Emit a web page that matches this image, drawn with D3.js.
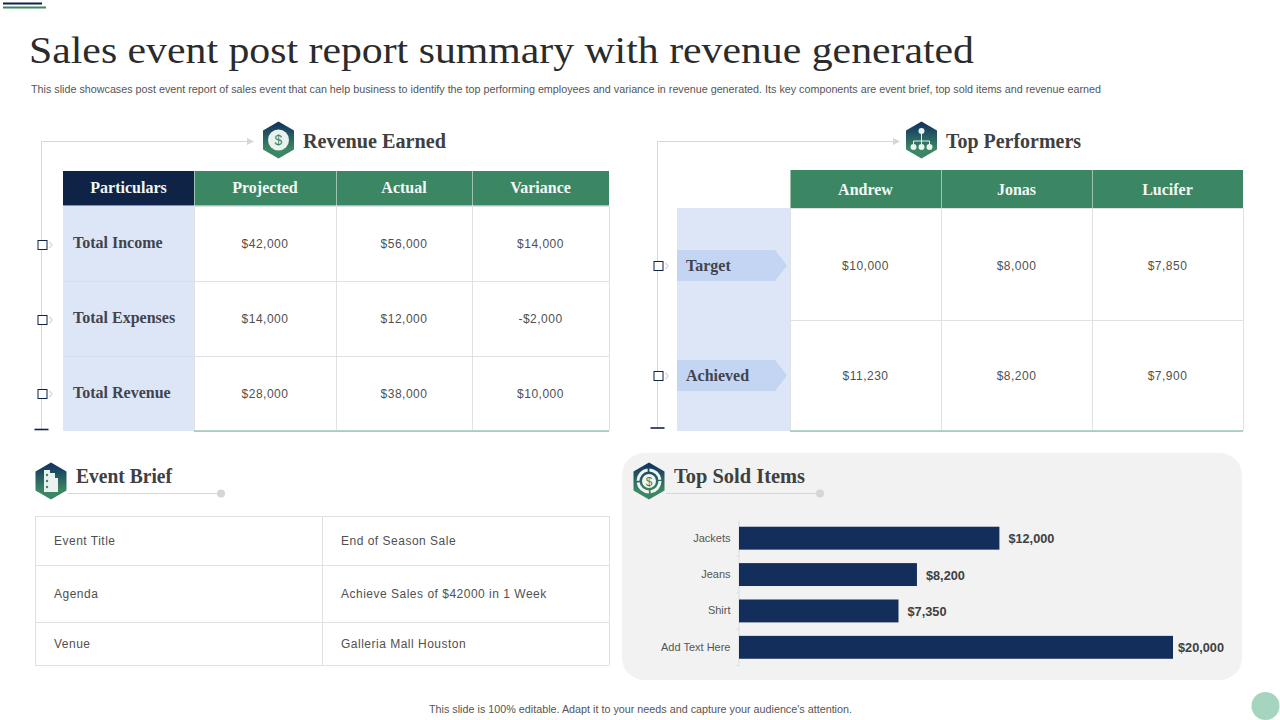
<!DOCTYPE html>
<html>
<head>
<meta charset="utf-8">
<title>Sales event post report summary</title>
<script src="https://cdn.jsdelivr.net/npm/d3@7/dist/d3.min.js"></script>
<style>
html, body { margin: 0; padding: 0; background: #fff; overflow: hidden; }
svg { display: block; }
.serif { font-family: "Liberation Serif", serif; }
.sans { font-family: "Liberation Sans", Arial, sans-serif; }
.spaced { letter-spacing: 0.5px; }
</style>
</head>
<body>
<svg id="slide" width="1280" height="720"></svg>
<script>
"use strict";

var navy = "#142e5c",
	dark_navy = "#0f2347",
	green = "#3c8763",
	pale_blue = "#dde6f7",
	mid_blue = "#c3d5f3",
	grid = "#dfe2e5",
	bracket = "#d4d6d8",
	text_dark = "#41444f",
	text_cell = "#505050";

var revenue = {
	header: ["Particulars", "Projected", "Actual", "Variance"],
	rows: [
		["Total Income", "$42,000", "$56,000", "$14,000"],
		["Total Expenses", "$14,000", "$12,000", "-$2,000"],
		["Total Revenue", "$28,000", "$38,000", "$10,000"]
	]
};

var performers = {
	header: ["Andrew", "Jonas", "Lucifer"],
	rows: [
		["Target", "$10,000", "$8,000", "$7,850"],
		["Achieved", "$11,230", "$8,200", "$7,900"]
	]
};

var brief = [
	["Event Title", "End of Season Sale"],
	["Agenda", "Achieve Sales of $42000 in 1 Week"],
	["Venue", "Galleria Mall Houston"]
];

//dx is how far the value label sits past the bar end
var sold = [
	{ item: "Jackets", value: 12000, dx: 9 },
	{ item: "Jeans", value: 8200, dx: 9 },
	{ item: "Shirt", value: 7350, dx: 9 },
	{ item: "Add Text Here", value: 20000, dx: 5 }
];

var svg = d3.select("#slide");

var defs = svg.append("defs");
var grad = defs.append("linearGradient")
	.attr("id", "hex_grad")
	.attr("x1", 0).attr("y1", 0).attr("x2", 0).attr("y2", 1);
grad.append("stop").attr("offset", "8%").attr("stop-color", "#14375f");
grad.append("stop").attr("offset", "75%").attr("stop-color", "#3c8763");

function label(g, x, y, str, cls, size, fill, weight, anchor, len) {
	var t = g.append("text")
		.attr("class", cls)
		.attr("x", x)
		.attr("y", y)
		.attr("font-size", size)
		.attr("fill", fill)
		.attr("font-weight", weight || "normal")
		.attr("text-anchor", anchor || "start")
		.text(str);
	if(len) {
		t.attr("textLength", len).attr("lengthAdjust", "spacingAndGlyphs");
	}
	return t;
}

function hexagon(cx, cy, kind) {
	var g = svg.append("g").attr("transform", "translate(" + cx + "," + cy + ")");
	g.append("path")
		.attr("d", "M0,-18.5 L15.5,-9.5 L15.5,9.5 L0,18.5 L-15.5,9.5 L-15.5,-9.5 Z")
		.attr("fill", "url(#hex_grad)");

	if(kind == "dollar") {
		g.append("circle").attr("r", 10.5).attr("fill", "#e9f2ee");
		label(g, 0, 5, "$", "sans", 14, green, "normal", "middle");
	}
	else if(kind == "ring") {
		g.append("circle").attr("r", 11).attr("fill", "none").attr("stroke", "#f0f6f3").attr("stroke-width", 3).attr("stroke-dasharray", "15.5 1.8");
		g.append("circle").attr("r", 7).attr("fill", "#f0f6f3");
		label(g, 0, 4.5, "$", "sans", 12, green, "normal", "middle");
	}
	else if(kind == "org") {
		g.append("path")
			.attr("d", "M0,-8 V5 M-8,1 H8 M-8,1 V5 M8,1 V5")
			.attr("stroke", "#e9f2ee")
			.attr("fill", "none");
		g.selectAll("circle.node")
			.data([[0, -9], [-8, 7], [0, 7], [8, 7]])
			.enter().append("circle")
				.attr("class", "node")
				.attr("cx", function(d) { return d[0]; })
				.attr("cy", function(d) { return d[1]; })
				.attr("r", 3)
				.attr("fill", "#e9f2ee");
	}
	else if(kind == "clipboard") {
		g.append("path")
			.attr("d", "M-7,-11 H-1 V-8 H4 V-3 H7 V11 H-7 Z")
			.attr("fill", "#e9f2ee");
		g.selectAll("circle.dot")
			.data([-6, 0, 6])
			.enter().append("circle")
				.attr("class", "dot")
				.attr("cx", -4)
				.attr("cy", function(d) { return d; })
				.attr("r", 1.2)
				.attr("fill", green);
	}
}

function section_title(x, y, str, len) {
	label(svg, x, y, str, "serif", 20.5, "#404040", "bold", "start", len);
}

//bracket on the left of the two top tables: line, arrow, row markers, end dash
function draw_bracket(x, top, bottom, arrow_x, marks) {
	svg.append("path")
		.attr("d", "M" + x + "," + bottom + " V" + top + " H" + arrow_x)
		.attr("fill", "none")
		.attr("stroke", bracket);
	svg.append("path")
		.attr("d", "M" + arrow_x + "," + (top - 3.5) + " l7,3.5 l-7,3.5 Z")
		.attr("fill", bracket);
	svg.append("line")
		.attr("x1", x - 7).attr("x2", x + 7)
		.attr("y1", bottom).attr("y2", bottom)
		.attr("stroke", dark_navy)
		.attr("stroke-width", 1.6);
	marks.forEach(function(y) {
		svg.append("rect")
			.attr("x", x - 3.5).attr("y", y - 4.5)
			.attr("width", 9).attr("height", 9)
			.attr("fill", "#fff")
			.attr("stroke", dark_navy);
		svg.append("path")
			.attr("d", "M" + (x + 8) + "," + (y - 3) + " l2.5,3 l-2.5,3")
			.attr("fill", "none")
			.attr("stroke", "#dcdcdc")
			.attr("stroke-width", 1.5);
	});
}

function draw_grid(x_edges, y_edges) {
	x_edges.forEach(function(x) {
		svg.append("line")
			.attr("x1", x + 0.5).attr("x2", x + 0.5)
			.attr("y1", y_edges[0]).attr("y2", y_edges[y_edges.length - 1])
			.attr("stroke", grid);
	});
	y_edges.forEach(function(y) {
		svg.append("line")
			.attr("x1", x_edges[0]).attr("x2", x_edges[x_edges.length - 1])
			.attr("y1", y + 0.5).attr("y2", y + 0.5)
			.attr("stroke", grid);
	});
}

//top strip and heading
svg.append("line").attr("x1", 3).attr("x2", 42).attr("y1", 3.5).attr("y2", 3.5).attr("stroke", dark_navy).attr("stroke-width", 2);
svg.append("line").attr("x1", 3).attr("x2", 46).attr("y1", 7.5).attr("y2", 7.5).attr("stroke", green).attr("stroke-width", 2);

label(svg, 29, 63, "Sales event post report summary with revenue generated", "serif", 38.5, "#2b2b2b", "normal", "start", 945);
label(svg, 31, 92.5, "This slide showcases post event report of sales event that can help business to identify the top performing employees and variance in revenue generated. Its key components are event brief, top sold items and revenue earned", "sans", 10.5, "#555", "normal", "start", 1070);

//revenue earned table
var rev_x = [63, 194, 336, 472, 609],
	rev_y = [206, 281, 356, 431];

draw_bracket(41.5, 141.5, 429.5, 247, [245, 320, 394]);
hexagon(278.5, 140, "dollar");
section_title(303, 148, "Revenue Earned", 143);

svg.append("rect").attr("x", rev_x[0]).attr("y", rev_y[0]).attr("width", rev_x[1] - rev_x[0]).attr("height", rev_y[3] - rev_y[0]).attr("fill", pale_blue);
draw_grid(rev_x.slice(1), rev_y);
svg.append("line").attr("x1", rev_x[0]).attr("x2", rev_x[1]).attr("y1", 281.5).attr("y2", 281.5).attr("stroke", "#d5deee");
svg.append("line").attr("x1", rev_x[0]).attr("x2", rev_x[1]).attr("y1", 356.5).attr("y2", 356.5).attr("stroke", "#d5deee");
svg.append("line").attr("x1", rev_x[1]).attr("x2", rev_x[4]).attr("y1", 431).attr("y2", 431).attr("stroke", "#9cc4b3").attr("stroke-width", 1.6);

revenue.header.forEach(function(h, i) {
	svg.append("rect")
		.attr("x", rev_x[i] + (i ? 0.5 : 0)).attr("y", 171)
		.attr("width", rev_x[i + 1] - rev_x[i] - (i ? 0.5 : 0)).attr("height", 34.5)
		.attr("fill", i ? green : dark_navy);
	label(svg, (rev_x[i] + rev_x[i + 1]) / 2, 192.5, h, "serif", 16, "#f3f7f4", "bold", "middle");
});

revenue.rows.forEach(function(row, r) {
	var mid = (rev_y[r] + rev_y[r + 1]) / 2;
	row.forEach(function(cell, c) {
		if(c == 0) {
			label(svg, 73, mid + 4, cell, "serif", 16, text_dark, "bold");
		}
		else {
			label(svg, (rev_x[c] + rev_x[c + 1]) / 2, mid + 4, cell, "sans spaced", 12, text_cell, "normal", "middle");
		}
	});
});

//top performers table
var perf_x = [790, 941, 1092, 1243],
	perf_y = [208, 320, 431],
	perf_arrow = [265.5, 375.5];

draw_bracket(657.5, 141.5, 428, 893, [266, 376]);
hexagon(921.5, 140, "org");
section_title(946, 148, "Top Performers", 135);

svg.append("rect").attr("x", 677).attr("y", perf_y[0]).attr("width", perf_x[0] - 677).attr("height", perf_y[2] - perf_y[0]).attr("fill", pale_blue);
draw_grid(perf_x, perf_y);
svg.append("line").attr("x1", perf_x[0]).attr("x2", perf_x[3]).attr("y1", 431).attr("y2", 431).attr("stroke", "#9cc4b3").attr("stroke-width", 1.6);

performers.header.forEach(function(h, i) {
	svg.append("rect")
		.attr("x", perf_x[i] + 0.5).attr("y", 170)
		.attr("width", perf_x[i + 1] - perf_x[i] - 0.5).attr("height", 38)
		.attr("fill", green);
	label(svg, (perf_x[i] + perf_x[i + 1]) / 2, 194.5, h, "serif", 16, "#f3f7f4", "bold", "middle");
});

performers.rows.forEach(function(row, r) {
	var mid = perf_arrow[r];
	svg.append("path")
		.attr("d", "M677," + (mid - 15.5) + " H775 L787," + mid + " L775," + (mid + 15.5) + " H677 Z")
		.attr("fill", mid_blue);
	row.forEach(function(cell, c) {
		if(c == 0) {
			label(svg, 686, mid + 5, cell, "serif", 16, text_dark, "bold");
		}
		else {
			label(svg, (perf_x[c - 1] + perf_x[c]) / 2, mid + 4, cell, "sans spaced", 12, text_cell, "normal", "middle");
		}
	});
});

//event brief
var brief_x = [35, 322, 609],
	brief_y = [516, 565, 622, 665];

hexagon(51, 481, "clipboard");
section_title(76, 483, "Event Brief", 96);
svg.append("line").attr("x1", 68).attr("x2", 221).attr("y1", 493.5).attr("y2", 493.5).attr("stroke", bracket);
svg.append("circle").attr("cx", 221).attr("cy", 493.5).attr("r", 4).attr("fill", bracket);

draw_grid(brief_x, brief_y);
brief.forEach(function(row, r) {
	var mid = (brief_y[r] + brief_y[r + 1]) / 2;
	label(svg, 54, mid + 4, row[0], "sans spaced", 12, text_cell);
	label(svg, 341, mid + 4, row[1], "sans spaced", 12, text_cell);
});

//top sold items bar chart
svg.append("rect")
	.attr("x", 622).attr("y", 453)
	.attr("width", 620).attr("height", 227)
	.attr("rx", 22)
	.attr("fill", "#f2f2f2");

hexagon(649, 481, "ring");
section_title(674, 483, "Top Sold Items", 131);
svg.append("line").attr("x1", 666).attr("x2", 820).attr("y1", 493.5).attr("y2", 493.5).attr("stroke", bracket);
svg.append("circle").attr("cx", 820).attr("cy", 493.5).attr("r", 4).attr("fill", "#d4d6d8");

var x = d3.scaleLinear()
	.domain([0, 20000])
	.range([739, 1173]);

var y = d3.scaleBand()
	.domain(sold.map(function(d) { return d.item; }))
	.range([520, 665.5])
	.paddingInner(0.37)
	.paddingOuter(0.185);

var y_axis = svg.append("g")
	.attr("transform", "translate(738.5,0)")
	.call(d3.axisLeft(y).tickSize(2).tickPadding(6).tickSizeOuter(0));

y_axis.select(".domain").attr("stroke", "#dcdcdc");
y_axis.selectAll(".tick line")
	.attr("stroke", "#dcdcdc")
	.attr("transform", "translate(0," + (y.step() / 2) + ")");
y_axis.selectAll("text")
	.attr("class", "sans")
	.attr("font-size", 11)
	.attr("fill", "#555");

svg.selectAll(".bar")
	.data(sold)
	.enter().append("rect")
		.attr("class", "bar")
		.attr("x", x(0))
		.attr("y", function(d) { return y(d.item); })
		.attr("width", function(d) { return x(d.value) - x(0); })
		.attr("height", y.bandwidth())
		.attr("fill", navy);

svg.selectAll(".bar_label")
	.data(sold)
	.enter().append("text")
		.attr("class", "bar_label sans")
		.attr("x", function(d) { return x(d.value) + d.dx; })
		.attr("y", function(d) { return y(d.item) + y.bandwidth() / 2 + 5; })
		.attr("font-size", 13.5)
		.attr("font-weight", "bold")
		.attr("fill", "#404040")
		.attr("textLength", 46)
		.attr("lengthAdjust", "spacingAndGlyphs")
		.text(function(d) { return d3.format("$,")(d.value); })
		.filter(function(d) { return d.value < 10000; })
		.attr("textLength", 39);

//footer
label(svg, 640.5, 713, "This slide is 100% editable.  Adapt it to your needs and capture your audience's attention.", "sans", 10.5, "#555", "normal", "middle", 423);
svg.append("circle").attr("cx", 1265.5).attr("cy", 706).attr("r", 14).attr("fill", "#a5d5bf");
</script>
</body>
</html>
